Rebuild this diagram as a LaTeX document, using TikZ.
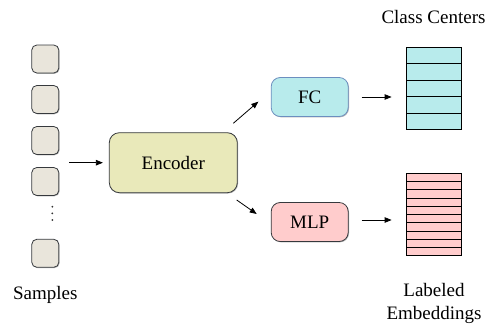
\documentclass[tikz,border=0pt]{standalone}
\usepackage{fontspec}
\setmainfont{LiberationSerif}[Extension=.ttf, UprightFont=*-Regular, BoldFont=*-Bold]
\usetikzlibrary{arrows.meta,shadows}

\definecolor{samplefill}{RGB}{233,229,219}
\definecolor{encfill}{RGB}{233,233,186}
\definecolor{fcfill}{RGB}{184,235,236}
\definecolor{fcline}{RGB}{108,142,191}
\definecolor{mlpfill}{RGB}{255,204,204}
\definecolor{darkline}{RGB}{54,57,61}

\tikzset{
	boxshadow/.style={drop shadow={shadow xshift=0.8pt,shadow yshift=-0.8pt,fill=black,opacity=0.3}},
	sample/.style={draw=darkline, line width=0.8pt, fill=samplefill, rounded corners=5pt,
		minimum width=27pt, minimum height=28pt, inner sep=0pt, boxshadow},
	block/.style={draw=darkline, line width=0.8pt, rounded corners=9pt, inner sep=0pt, boxshadow},
	stack/.style={draw=black, line width=0.8pt, minimum width=55pt, minimum height=82pt, inner sep=0pt},
	dot/.style={circle, fill=black!80, inner sep=0pt, minimum size=2pt},
	arr/.style={-{Triangle[length=7pt,width=5.5pt]}, line width=0.8pt},
}

\begin{document}
\begin{tikzpicture}[x=1pt,y=-1pt,font=\rmfamily\fontsize{19}{23.5}\selectfont]
		\useasboundingbox (0,0) rectangle (486,324);
		
		% samples
		\node[sample] (s1) at (45.3, 59) {};
		\node[sample] (s2) at (45.3, 99.5) {};
		\node[sample] (s3) at (45.3, 140.5) {};
		\node[sample] (s4) at (45.3, 181.5) {};
		\node[dot] (d1) at (52.3, 206.7) {};
		\node[dot] (d2) at (52.3, 213.3) {};
		\node[dot] (d3) at (52.3, 220) {};
		\node[sample] (s5) at (45.3, 253.3) {};
		\node (samples) at (45.3, 295) {Samples};
		
		% encoder and heads
		\node[block, fill=encfill, rounded corners=10pt, minimum width=128pt, minimum height=60pt] (enc) at (173.3, 162.7) {Encoder};
		\node[block, draw=fcline, fill=fcfill, minimum width=77pt, minimum height=39pt] (fc) at (309.7, 97) {FC};
		\node[block, fill=mlpfill, minimum width=77pt, minimum height=39pt] (mlp) at (309.7, 222) {MLP};
		
		% outputs
		\node[stack, fill=fcfill] (cc) at (433.5, 88.3) {};
		\node[stack, fill=mlpfill] (emb) at (433.5, 214.5) {};
		\node (cctext) at (433.5, 16.7) {Class Centers};
		\node[align=center] (embtext) at (434, 303.5) {Labeled\\Embeddings};
		
		\draw[line width=0.8pt] (406, 63.7) -- (461, 63.7);
		\draw[line width=0.8pt] (406, 80.1) -- (461, 80.1);
		\draw[line width=0.8pt] (406, 96.5) -- (461, 96.5);
		\draw[line width=0.8pt] (406, 112.9) -- (461, 112.9);
		
		\draw[line width=0.8pt] (406, 181.5) -- (461, 181.5);
		\draw[line width=0.8pt] (406, 189.8) -- (461, 189.8);
		\draw[line width=0.8pt] (406, 198) -- (461, 198);
		\draw[line width=0.8pt] (406, 206.3) -- (461, 206.3);
		\draw[line width=0.8pt] (406, 214.5) -- (461, 214.5);
		\draw[line width=0.8pt] (406, 222.7) -- (461, 222.7);
		\draw[line width=0.8pt] (406, 231) -- (461, 231);
		\draw[line width=0.8pt] (406, 239.2) -- (461, 239.2);
		\draw[line width=0.8pt] (406, 247.5) -- (461, 247.5);
		
		% arrows
		\coordinate (in) at (69, 162.7);
		\coordinate (encup) at (233.3, 123.3);
		\coordinate (fcin) at (258.3, 101.7);
		\coordinate (encdown) at (236.7, 200);
		\coordinate (mlpin) at (256.7, 214);
		
		\draw[arr, shorten >=6pt] (in) -- (enc.west);
		\draw[arr] (encup) -- (fcin);
		\draw[arr] (encdown) -- (mlpin);
		\draw[arr, shorten <=13pt, shorten >=14pt] (fc.east) -- (fc.east -| cc.west);
		\draw[arr, shorten <=13pt, shorten >=14pt] ([yshift=2pt]mlp.east) -- ([yshift=2pt]mlp.east -| emb.west);
		\end{tikzpicture}
\end{document}
